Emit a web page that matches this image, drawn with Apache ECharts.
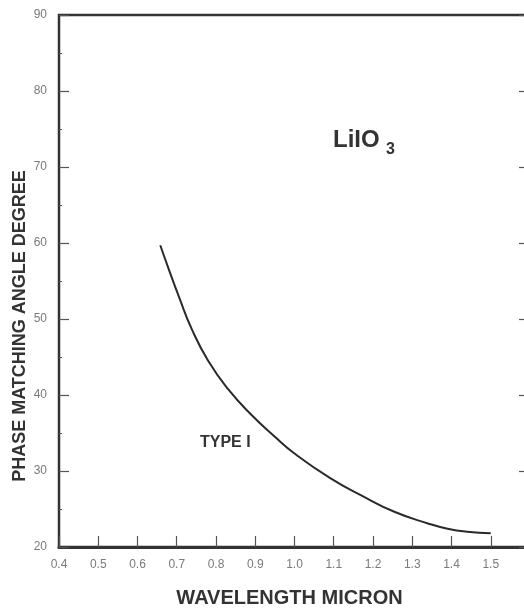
<!DOCTYPE html>
<html>
<head>
<meta charset="utf-8">
<script src="https://cdn.jsdelivr.net/npm/echarts@6/dist/echarts.min.js"></script>
<style>html,body{margin:0;padding:0;background:#fff}#c{width:524px;height:608px}</style>
</head>
<body>
<div id="c"></div>
<script>
const wavelength = [0.658, 0.68, 0.705, 0.738, 0.78, 0.832, 0.89, 0.95, 1.0, 1.09, 1.17, 1.256, 1.34, 1.39, 1.44, 1.5];
const angle = [59.7, 56.5, 53.0, 48.7, 44.5, 40.7, 37.4, 34.5, 32.3, 29.1, 26.8, 24.6, 23.1, 22.4, 22.0, 21.8];
const xTickLabels = ['0.4','0.5','0.6','0.7','0.8','0.9','1.0','1.1','1.2','1.3','1.4','1.5'];
const yTickLabels = ['20','30','40','50','60','70','80','90'];

const ink = '#333';
const font = 'Liberation Sans, Arial, sans-serif';
const chart = echarts.init(document.getElementById('c'));
chart.setOption({
  animation: false,
  backgroundColor: '#fff',
  grid: { left: 59, width: 471, top: 15, height: 532, outerBoundsMode: 'none', containLabel: false, show: true, borderColor: ink, borderWidth: 2.5 },
  xAxis: {
    type: 'value', min: 0.4, max: 1.6, interval: 0.1,
    name: 'WAVELENGTH MICRON', nameLocation: 'middle', nameGap: 41,
    nameTextStyle: { fontFamily: font, fontWeight: 'bold', fontSize: 20, color: ink, padding: [0, 10, 0, 0] },
    axisLine: { lineStyle: { color: ink, width: 3 } },
    axisTick: { inside: true, length: 11, lineStyle: { color: '#555', width: 1.2 } },
    splitLine: { show: false },
    axisLabel: {
      margin: 12, color: '#7a7a7a', fontFamily: font, fontSize: 12,
      formatter: function (v) { const i = Math.round((v - 0.4) * 10); return xTickLabels[i] || ''; }
    }
  },
  yAxis: [{
    type: 'value', min: 20, max: 90, interval: 10,
    axisLine: { lineStyle: { color: ink, width: 2 } },
    axisTick: { inside: true, length: 10, lineStyle: { color: '#555', width: 1.2 } },
    minorTick: { show: true, splitNumber: 2, length: 3, lineStyle: { color: '#555', width: 1 } },
    splitLine: { show: false },
    axisLabel: {
      margin: 12, color: '#7a7a7a', fontFamily: font, fontSize: 12,
      formatter: function (v) { const i = Math.round((v - 20) / 10); return yTickLabels[i] || ''; }
    }
  }, {
    type: 'value', min: 20, max: 90, interval: 10, position: 'right',
    axisLine: { show: true, lineStyle: { color: ink, width: 2 } },
    axisTick: { show: true, inside: true, length: 11, lineStyle: { color: '#555', width: 1.2 } },
    axisLabel: { show: false }, splitLine: { show: false }
  }],
  graphic: [
    { type: 'text', x: 20, y: 326, rotation: Math.PI / 2, style: { text: 'PHASE MATCHING ANGLE DEGREE', align: 'center', verticalAlign: 'middle', fontFamily: font, fontWeight: 'bold', fontSize: 18, fill: ink } },
    { type: 'text', style: { text: 'LiIO', x: 333, y: 140, verticalAlign: 'middle', fontFamily: font, fontWeight: 'bold', fontSize: 24, fill: ink } },
    { type: 'text', style: { text: '3', x: 386, y: 150, verticalAlign: 'middle', fontFamily: font, fontWeight: 'bold', fontSize: 16, fill: ink } },
    { type: 'text', style: { text: 'TYPE I', x: 200, y: 443, verticalAlign: 'middle', fontFamily: font, fontWeight: 'bold', fontSize: 16, fill: ink } }
  ],
  series: [{
    type: 'line', smooth: 0.5, showSymbol: false, yAxisIndex: 0,
    data: wavelength.map((w, i) => [w, angle[i]]),
    lineStyle: { color: '#2a2a2a', width: 2 }
  }]
});
</script>
</body>
</html>
